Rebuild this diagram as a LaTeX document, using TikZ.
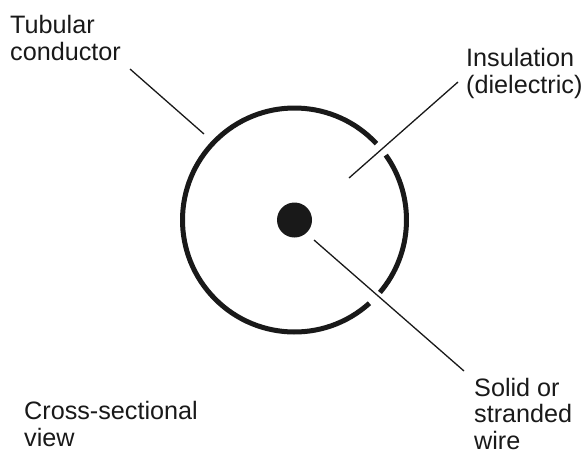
\documentclass[tikz,border=0pt]{standalone}
\usepackage{fontspec}
\setmainfont{Liberation Sans}
\tikzset{lbl/.style={inner sep=0pt,align=left,anchor=base west,font=\fontsize{25.2pt}{26.5pt}\selectfont,text=black!90},
lead/.style={line width=1.3pt,black!90},
ring/.style={line width=5pt,black!90}}
\begin{document}
\begin{tikzpicture}[x=1pt,y=-1pt]
\useasboundingbox (0,0) rectangle (587,453);
\coordinate (c) at (294.5,220);
\draw[ring] (c) ++(48:112) arc (48:317:112);
\draw[ring] (c) ++(-35.4:112) arc (-35.4:40.3:112);
\node[circle,fill=black!90,minimum size=35pt,inner sep=0pt] (w) at (c) {};
\node[lbl] (t) at (10,60) {Tubular\\conductor};
\node[lbl] (i) at (466,93) {Insulation\\(dielectric)};
\node[lbl] (s) at (474,449) {Solid or\\stranded\\wire};
\node[lbl] (v) at (24,446) {Cross-sectional\\view};
\coordinate (a1) at (130,69);
\coordinate (a2) at (204,134);
\coordinate (b1) at (458,82);
\coordinate (b2) at (349,178);
\coordinate (d1) at (314,240);
\coordinate (d2) at (464,371);
\draw[lead] (a1) -- (a2);
\draw[lead] (b1) -- (b2);
\draw[lead] (d1) -- (d2);
\end{tikzpicture}
\end{document}
